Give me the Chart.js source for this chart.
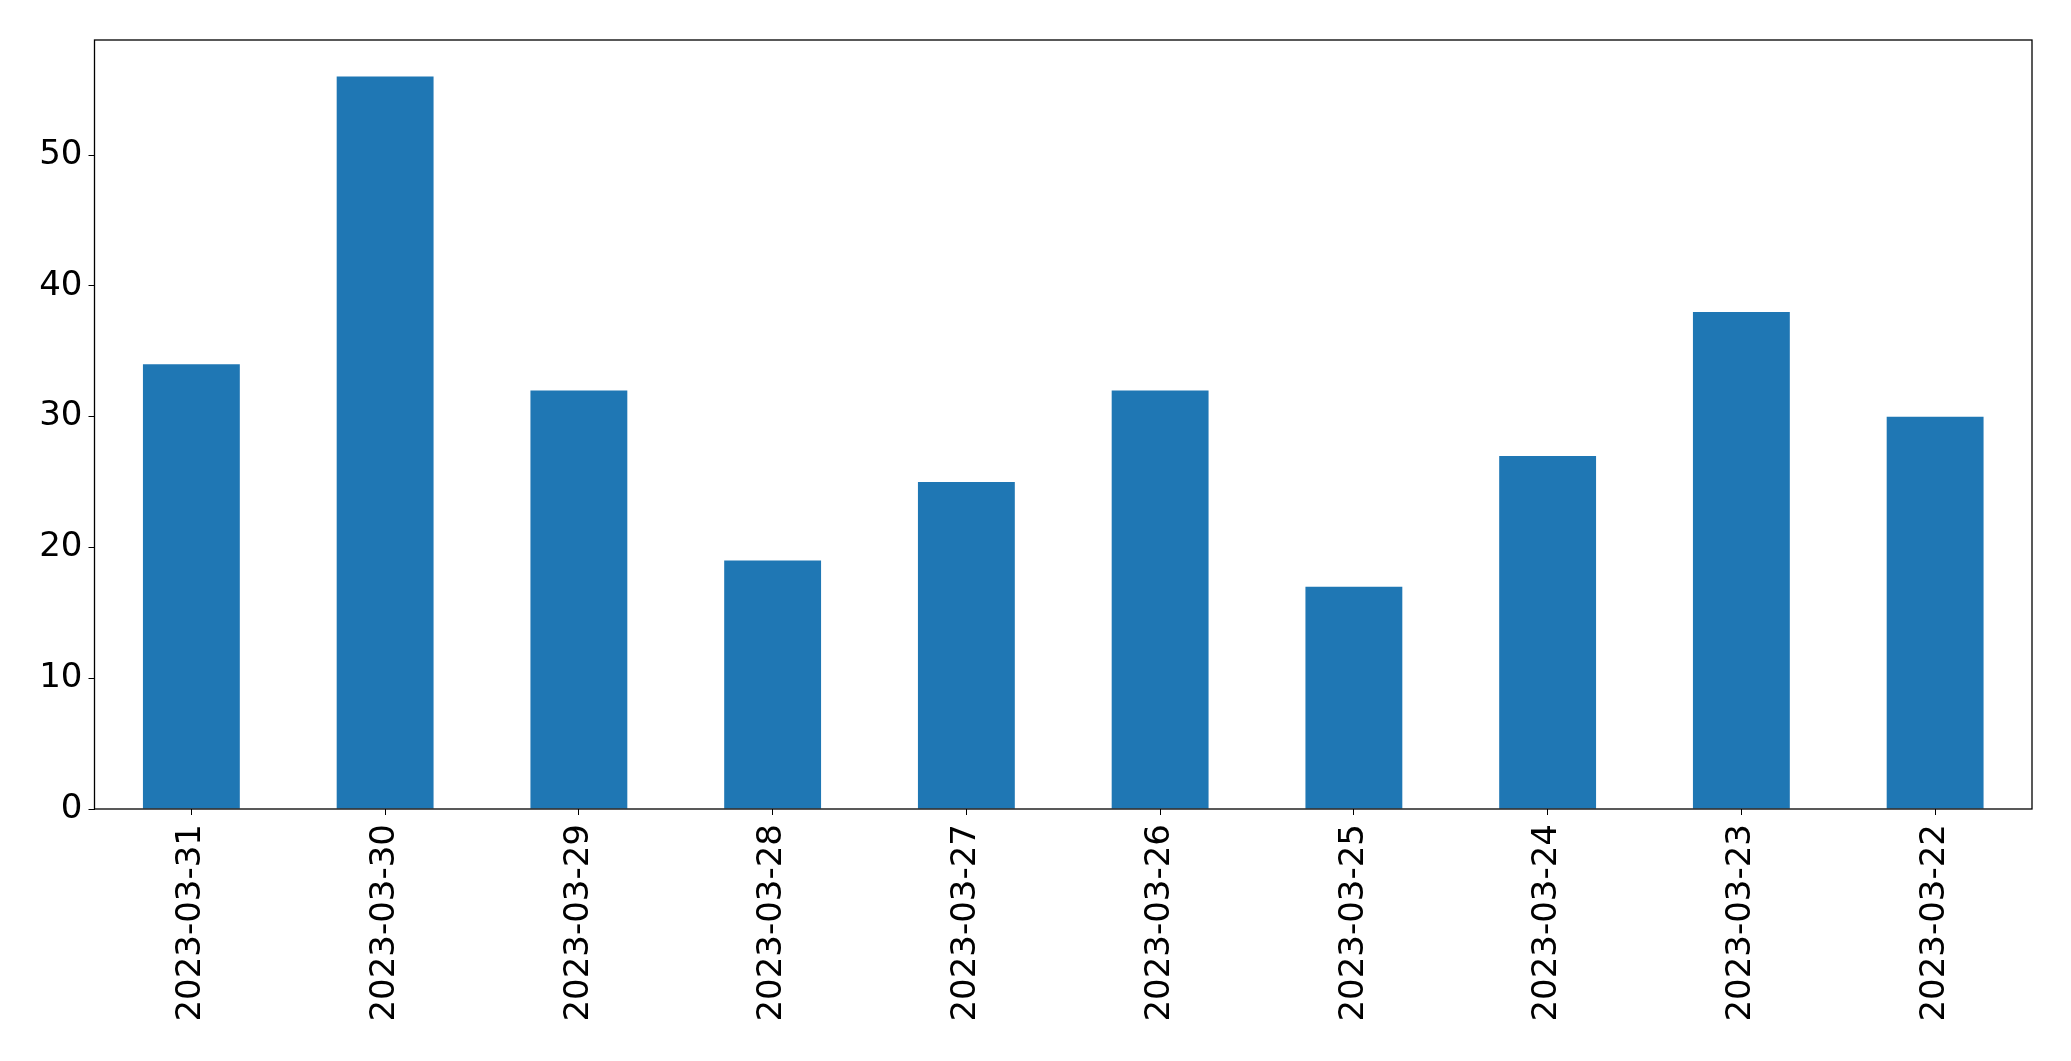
<!DOCTYPE html>
<html>
<head>
<meta charset="utf-8">
<script src="https://cdn.jsdelivr.net/npm/chart.js@4"></script>
<style>
  html, body { margin: 0; padding: 0; background: #fff; }
  #wrap { width: 2071px; height: 1061px; }
</style>
</head>
<body>
<div id="wrap"><canvas id="barChart" width="2071" height="1061"></canvas></div>
<script>
const dates = ["2023-03-31", "2023-03-30", "2023-03-29", "2023-03-28", "2023-03-27",
               "2023-03-26", "2023-03-25", "2023-03-24", "2023-03-23", "2023-03-22"];
const counts = [34, 56, 32, 19, 25, 32, 17, 27, 38, 30];
const yTicks = [0, 10, 20, 30, 40, 50];
const yMax = 58.8;

const tickFont = { family: "DejaVu Sans", size: 34 };

// box around the plot area, like a matplotlib frame
const frame = {
  id: "frame",
  afterDraw(chart) {
    const a = chart.chartArea;
    const c = chart.ctx;
    c.save();
    c.strokeStyle = "#000";
    c.lineWidth = 1.3;
    c.strokeRect(a.left, a.top, a.right - a.left, a.bottom - a.top);
    c.restore();
  }
};

const ctx = document.getElementById("barChart").getContext("2d");
new Chart(ctx, {
  type: "bar",
  data: {
    labels: dates,
    datasets: [{
      data: counts,
      backgroundColor: "#1f77b4",
      borderWidth: 0,
      barPercentage: 0.5,
      categoryPercentage: 1.0
    }]
  },
  options: {
    responsive: false,
    animation: false,
    layout: { padding: { top: 40, right: 39, bottom: 0, left: 0 } },
    plugins: { legend: { display: false }, tooltip: { enabled: false } },
    scales: {
      x: {
        grid: { display: true, drawOnChartArea: false, drawTicks: true, tickLength: 6, color: "#000", offset: false },
        border: { display: false },
        ticks: { color: "#000", font: tickFont, maxRotation: 90, minRotation: 90, padding: 9, autoSkip: false },
        afterFit(scale) { scale.height = 252; }
      },
      y: {
        min: 0,
        max: yMax,
        grid: { display: true, drawOnChartArea: false, drawTicks: true, tickLength: 6, color: "#000" },
        border: { display: false },
        ticks: { color: "#000", font: tickFont, stepSize: 10, padding: 6, includeBounds: false },
        afterBuildTicks(scale) { scale.ticks = yTicks.map(v => ({ value: v })); },
        afterFit(scale) { scale.width = 94.5; }
      }
    }
  },
  plugins: [frame]
});
</script>
</body>
</html>
